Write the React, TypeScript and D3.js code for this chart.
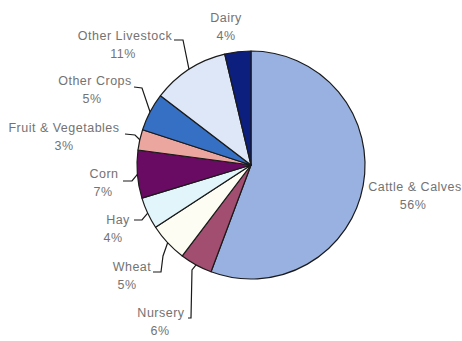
import React from "react";
import * as d3 from "d3";

const categories = ["Cattle & Calves", "Nursery", "Wheat", "Hay", "Corn", "Fruit & Vegetables", "Other Crops", "Other Livestock", "Dairy"];
const values = [55.7, 4.6, 5.5, 4.5, 6.8, 2.9, 5.4, 10.9, 3.7];
const pctLabels = ["56%", "6%", "5%", "4%", "7%", "3%", "5%", "11%", "4%"];
const colors = ["#98b1e1", "#a24e70", "#fdfdf3", "#e1f5fa", "#690b62", "#eba6a0", "#3570c4", "#dde7f7", "#0c1e7e"];

// label layout: [x center, name baseline, pct x center]
const labelPos: [number, number, number][] = [
  [415, 191, 413],
  [161, 317, 160],
  [132, 271, 127],
  [118, 224, 113],
  [104, 178, 103],
  [64, 132, 64],
  [95, 85, 92],
  [125, 40, 123],
  [226, 22, 226],
];
// leader elbows (ending at the slice mid-angle on the rim)
const leaders: ([number, number][] | null)[] = [
  null,
  [[188, 318], [191, 318], [192, 270]],
  [[153, 272], [161, 272], [163, 256]],
  [[134, 220], [142, 220]],
  [[123, 181], [132, 181]],
  [[125, 134], [135, 135]],
  [[134, 87], [142, 88]],
  [[174, 40], [183, 40]],
  null,
];

export default function App() {
  const cx = 251, cy = 165, r = 114;
  const pie = d3.pie<number>().sort(null).value((d) => d)(values);
  const arc = d3.arc<d3.PieArcDatum<number>>().innerRadius(0).outerRadius(r);
  const line = d3.line();
  return (
    <svg width={462} height={341} style={{ position: "absolute", left: 0, top: 0 }}>
      <rect width={462} height={341} fill="#fff" />
      <g transform={`translate(${cx},${cy})`}>
        {pie.map((p, i) => (
          <path key={i} d={arc(p) || ""} fill={colors[i]} stroke="#1a1a1a" strokeWidth={1.2} strokeLinejoin="round" />
        ))}
      </g>
      {pie.map((p, i) => {
        const L = leaders[i];
        if (!L) return null;
        const a = (p.startAngle + p.endAngle) / 2;
        const end: [number, number] = [cx + r * Math.sin(a), cy - r * Math.cos(a)];
        return <path key={"l" + i} d={line([...L, end]) || ""} fill="none" stroke="#1a1a1a" strokeWidth={1.2} />;
      })}
      {categories.map((c, i) => (
        <g key={"t" + i} fontFamily="Liberation Sans, Arial, sans-serif" fontSize={12.5} letterSpacing={0.5} fill="#737373" textAnchor="middle">
          <text x={labelPos[i][0]} y={labelPos[i][1]}>{c}</text>
          <text x={labelPos[i][2]} y={labelPos[i][1] + 18}>{pctLabels[i]}</text>
        </g>
      ))}
    </svg>
  );
}
